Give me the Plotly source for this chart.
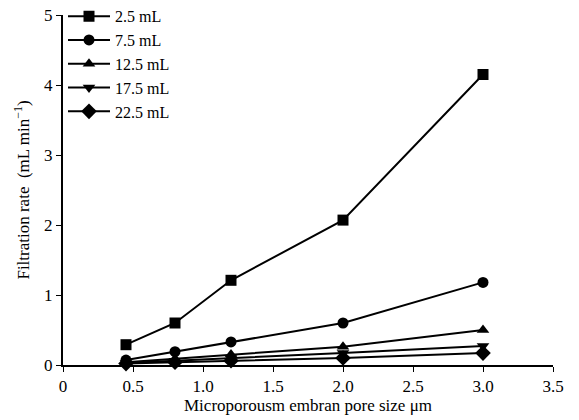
import plotly.graph_objects as go

pore_size = [0.45, 0.8, 1.2, 2.0, 3.0]
labels = ["2.5 mL", "7.5 mL", "12.5 mL", "17.5 mL", "22.5 mL"]
rate_2_5 = [0.29, 0.60, 1.21, 2.07, 4.15]
rate_7_5 = [0.07, 0.19, 0.33, 0.60, 1.18]
rate_12_5 = [0.04, 0.09, 0.15, 0.26, 0.50]
rate_17_5 = [0.03, 0.06, 0.10, 0.17, 0.27]
rate_22_5 = [0.02, 0.04, 0.06, 0.10, 0.17]
series = [rate_2_5, rate_7_5, rate_12_5, rate_17_5, rate_22_5]
symbols = ["square", "circle", "triangle-up", "triangle-down", "diamond"]
sizes = [11, 11, 11, 11, 12]

x_tickvals = [0, 0.5, 1.0, 1.5, 2.0, 2.5, 3.0, 3.5]
x_ticktext = ["0", "0.5", "1.0", "1.5", "2.0", "2.5", "3.0", "3.5"]
y_tickvals = [0, 1, 2, 3, 4, 5]

font = "Liberation Serif, Times New Roman, serif"

fig = go.Figure()
for lab, ys, sym, sz in zip(labels, series, symbols, sizes):
    fig.add_trace(go.Scatter(
        x=pore_size, y=ys, name=lab, mode="lines+markers",
        line=dict(color="black", width=2),
        marker=dict(symbol=sym, size=sz, color="black"),
        cliponaxis=False,
    ))

fig.update_layout(
    width=579, height=420,
    margin=dict(l=63, r=26, t=15, b=55, autoexpand=False),
    paper_bgcolor="white", plot_bgcolor="white",
    font=dict(family=font, size=17, color="black"),
    showlegend=True,
    legend=dict(x=0.0, y=1.045, xanchor="left", yanchor="top",
                bgcolor="rgba(0,0,0,0)", font=dict(size=16),
                tracegroupgap=0, itemwidth=42),
    xaxis=dict(range=[0, 3.5], tickvals=x_tickvals, ticktext=x_ticktext,
               showgrid=False, zeroline=False, showline=True,
               linecolor="black", linewidth=2, ticks="outside",
               ticklen=5, tickcolor="black", automargin=False,
               title=dict(text="Microporousm embran pore size \u03bcm",
                          font=dict(size=17), standoff=4)),
    yaxis=dict(range=[0, 5], tickvals=y_tickvals,
               showgrid=False, zeroline=False, showline=True,
               linecolor="black", linewidth=2, ticks="outside",
               ticklen=5, tickcolor="black", automargin=False,
               title=dict(text="Filtration rate  (mL min<sup>\u22121</sup>)",
                          font=dict(size=17), standoff=10)),
)

fig.write_html("out.html")
